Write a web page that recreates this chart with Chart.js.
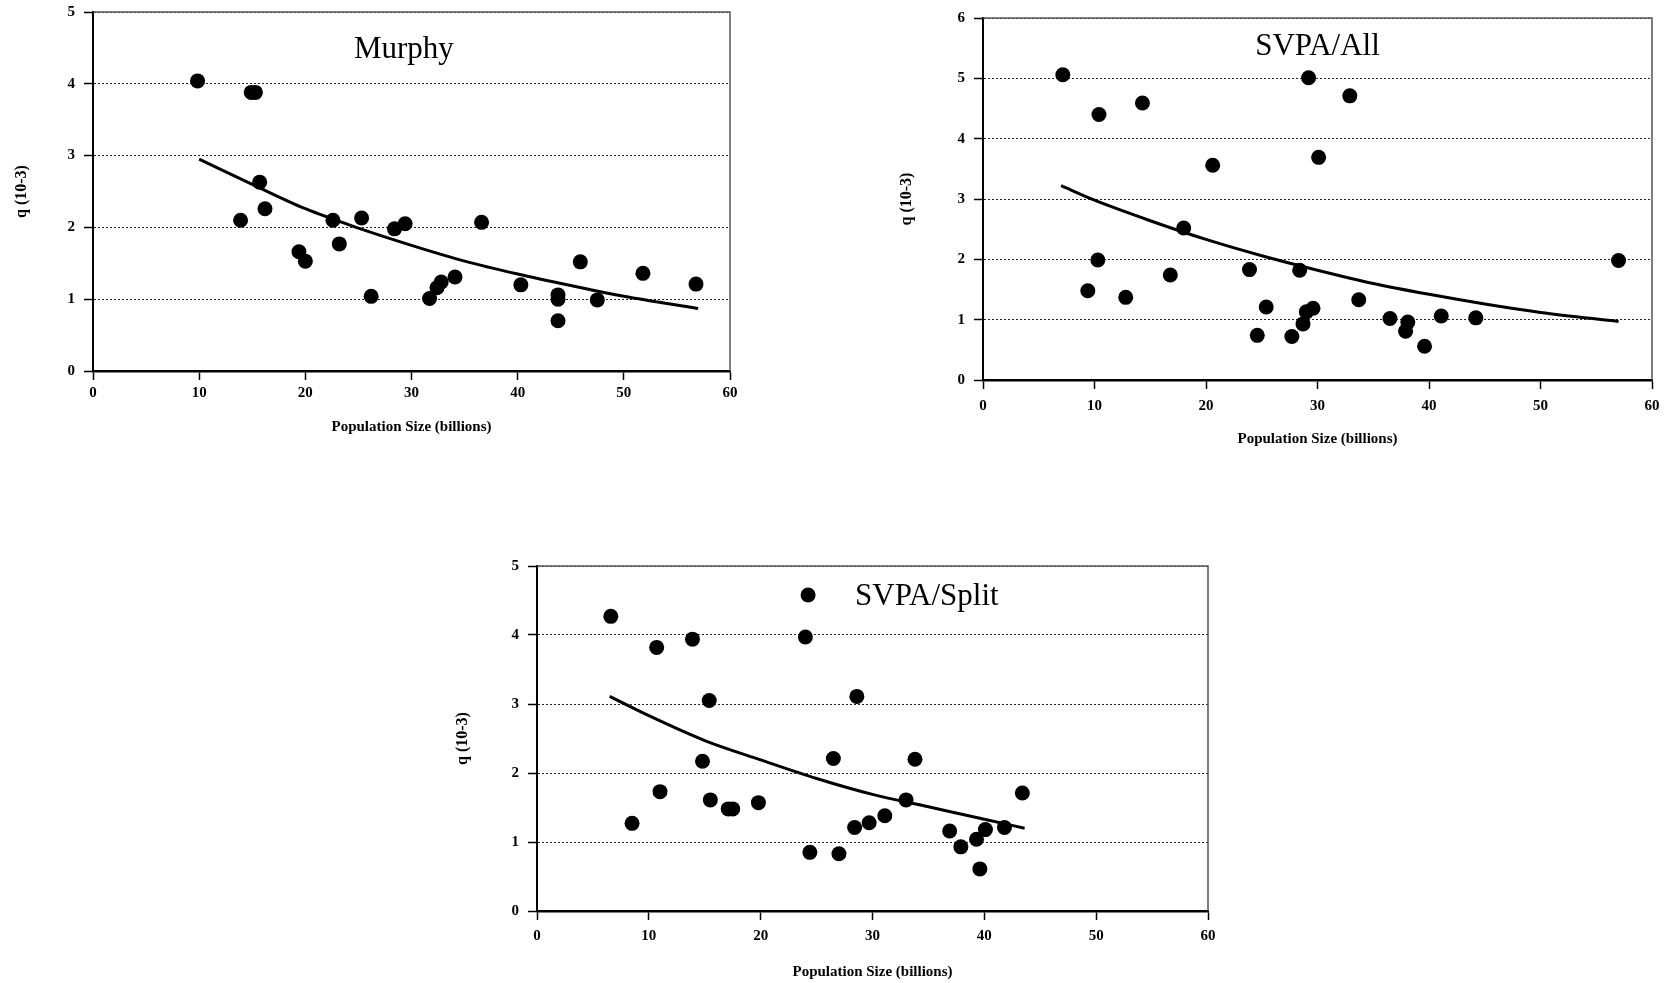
<!DOCTYPE html>
<html>
<head>
<meta charset="utf-8">
<script src="https://cdn.jsdelivr.net/npm/chart.js@4"></script>
<style>
  body { margin: 0; background: #fff; width: 1671px; height: 983px; overflow: hidden; }
  canvas { position: absolute; }
</style>
</head>
<body>
<canvas id="murphy" width="760" height="450" style="left:0;top:0"></canvas>
<canvas id="svpaAll" width="801" height="460" style="left:870px;top:0"></canvas>
<canvas id="svpaSplit" width="800" height="443" style="left:430px;top:540px"></canvas>
<script>
// x axis: population size (billions), y axis: q (10-3)
const xTicks = [0, 10, 20, 30, 40, 50, 60];

// Murphy
const murphyX = [9.85, 14.9, 15.3, 15.7, 16.2, 13.9, 19.4, 20.0, 22.6, 23.2, 25.3, 26.2, 28.4, 29.4,
  36.6, 31.7, 32.4, 32.8, 34.1, 40.3, 43.8, 43.8, 43.8, 45.9, 47.5, 51.8, 56.8];
const murphyQ = [4.04, 3.88, 3.88, 2.63, 2.26, 2.10, 1.66, 1.53, 2.10, 1.77, 2.13, 1.04, 1.98, 2.05,
  2.07, 1.01, 1.16, 1.24, 1.31, 1.20, 1.06, 1.00, 0.70, 1.52, 0.99, 1.36, 1.21];
const murphyFitX = [10, 15, 20, 25, 30, 35, 40, 45, 50, 57];
const murphyFitQ = [2.95, 2.6, 2.26, 1.99, 1.75, 1.53, 1.35, 1.19, 1.04, 0.87];
const murphyYTicks = [0, 1, 2, 3, 4, 5];

// SVPA/All
const allX = [7.16, 10.4, 14.3, 29.2, 32.9, 20.6, 30.1, 18.0, 10.3, 9.4, 12.8, 16.8, 23.9, 25.4,
  24.6, 27.7, 28.4, 28.7, 29.0, 29.6, 33.7, 36.5, 38.1, 37.9, 39.6, 41.1, 44.2, 57.0];
const allQ = [5.06, 4.40, 4.59, 5.01, 4.71, 3.56, 3.69, 2.52, 1.99, 1.48, 1.37, 1.74, 1.83, 1.21,
  0.74, 0.72, 1.82, 0.93, 1.13, 1.19, 1.33, 1.02, 0.96, 0.81, 0.56, 1.06, 1.03, 1.98];
const allFitX = [7, 10, 15, 20, 25, 30, 35, 40, 45, 50, 57];
const allFitQ = [3.22, 2.98, 2.64, 2.33, 2.06, 1.82, 1.60, 1.42, 1.26, 1.12, 0.97];
const allYTicks = [0, 1, 2, 3, 4, 5, 6];

// SVPA/Split
const splitX = [6.6, 8.5, 10.7, 11.0, 13.9, 14.8, 15.4, 15.5, 17.1, 17.5, 19.8, 24.0, 24.4, 26.5,
  27.0, 28.6, 28.4, 29.7, 31.1, 33.0, 33.8, 36.9, 37.9, 39.3, 40.1, 39.6, 41.8, 43.4];
const splitQ = [4.27, 1.27, 3.82, 1.73, 3.94, 2.17, 3.05, 1.61, 1.48, 1.48, 1.57, 3.97, 0.85, 2.21,
  0.83, 3.11, 1.21, 1.28, 1.38, 1.61, 2.20, 1.16, 0.93, 1.04, 1.18, 0.61, 1.21, 1.71];
const splitFitX = [6.5, 10, 15, 20, 25, 30, 35, 40, 43.6];
const splitFitQ = [3.11, 2.83, 2.47, 2.19, 1.92, 1.69, 1.51, 1.33, 1.2];
const splitYTicks = [0, 1, 2, 3, 4, 5];

Chart.defaults.font.family = "'Liberation Serif', serif";
Chart.defaults.color = "#000";

const toPoints = (xs, ys) => xs.map((x, i) => ({ x: x, y: ys[i] }));

// grey frame on top and right of the plot area
const frame = {
  id: "frame",
  beforeDatasetsDraw(chart) {
    const { ctx, chartArea: a } = chart;
    ctx.save();
    ctx.strokeStyle = "#555";
    ctx.lineWidth = 1.5;
    ctx.beginPath();
    ctx.moveTo(a.left, a.top);
    ctx.lineTo(a.right, a.top);
    ctx.lineTo(a.right, a.bottom);
    ctx.stroke();
    ctx.restore();
  },
};

// panel name written inside the plot
const panelLabel = {
  id: "panelLabel",
  afterDatasetsDraw(chart, args, opts) {
    const { ctx, chartArea: a } = chart;
    ctx.save();
    ctx.font = "31px 'Liberation Serif'";
    ctx.fillStyle = "#000";
    ctx.textAlign = opts.align || "center";
    ctx.textBaseline = "alphabetic";
    ctx.fillText(opts.text, a.left + a.width * opts.x, a.top + opts.baseline);
    if (opts.marker) {
      ctx.beginPath();
      ctx.arc(a.left + a.width * opts.marker.x, a.top + opts.marker.y, 7.5, 0, Math.PI * 2);
      ctx.fill();
    }
    ctx.restore();
  },
};

function makePanel(id, cfg) {
  new Chart(document.getElementById(id), {
    type: "scatter",
    data: {
      datasets: [
        {
          data: toPoints(cfg.xs, cfg.ys),
          backgroundColor: "#000",
          borderWidth: 0,
          pointRadius: 7.5,
          order: 1,
        },
        {
          data: toPoints(cfg.fitX, cfg.fitY),
          showLine: true,
          borderColor: "#000",
          borderWidth: 3,
          pointRadius: 0,
          tension: 0.4,
          cubicInterpolationMode: "monotone",
          order: 2,
        },
      ],
    },
    options: {
      responsive: false,
      animation: false,
      layout: { padding: { top: cfg.padTop, right: cfg.padRight, left: 0, bottom: 0 } },
      plugins: {
        legend: { display: false },
        tooltip: { enabled: false },
        panelLabel: cfg.label,
      },
      scales: {
        x: {
          type: "linear",
          min: xTicks[0],
          max: xTicks[xTicks.length - 1],
          afterFit: (s) => { s.height = cfg.xHeight; },
          ticks: { stepSize: 10, padding: cfg.xTickPad, font: { size: 15, weight: "bold" } },
          grid: { drawOnChartArea: false, drawTicks: true, tickLength: 9, tickColor: "#000", tickWidth: 1.5 },
          border: { color: "#000", width: 2.5 },
          title: {
            display: true,
            text: "Population Size (billions)",
            font: { size: 15, weight: "bold" },
            padding: { top: 0, bottom: cfg.xTitlePad },
          },
        },
        y: {
          min: cfg.yTicks[0],
          max: cfg.yTicks[cfg.yTicks.length - 1],
          afterFit: (s) => { s.width = cfg.yWidth; s.paddingTop = 0; },
          ticks: { stepSize: 1, padding: 9, font: { size: 15, weight: "bold" } },
          grid: { color: "#222", lineWidth: 1, tickLength: 9, tickColor: "#000", tickWidth: 1.5 },
          border: { color: "#000", width: 2, dash: [2, 2] },
          title: {
            display: true,
            text: "q (10-3)",
            font: { size: 16, weight: "bold" },
            padding: { top: cfg.yTitlePad, bottom: 0 },
          },
        },
      },
    },
    plugins: [frame, panelLabel],
  });
}

makePanel("murphy", {
  xs: murphyX, ys: murphyQ, fitX: murphyFitX, fitY: murphyFitQ, yTicks: murphyYTicks,
  padTop: 12, padRight: 30, yWidth: 93, xHeight: 79, xTickPad: 4, xTitlePad: 14, yTitlePad: 12,
  label: { text: "Murphy", x: 0.488, baseline: 46 },
});

makePanel("svpaAll", {
  xs: allX, ys: allQ, fitX: allFitX, fitY: allFitQ, yTicks: allYTicks,
  padTop: 18, padRight: 19, yWidth: 113, xHeight: 80, xTickPad: 8, xTitlePad: 12, yTitlePad: 27,
  label: { text: "SVPA/All", x: 0.5, baseline: 37 },
});

makePanel("svpaSplit", {
  xs: splitX, ys: splitQ, fitX: splitFitX, fitY: splitFitQ, yTicks: splitYTicks,
  padTop: 26, padRight: 22, yWidth: 107, xHeight: 72, xTickPad: 7, xTitlePad: 2, yTitlePad: 23,
  label: { text: "SVPA/Split", x: 0.474, baseline: 39, align: "left", marker: { x: 0.404, y: 29 } },
});
</script>
</body>
</html>
